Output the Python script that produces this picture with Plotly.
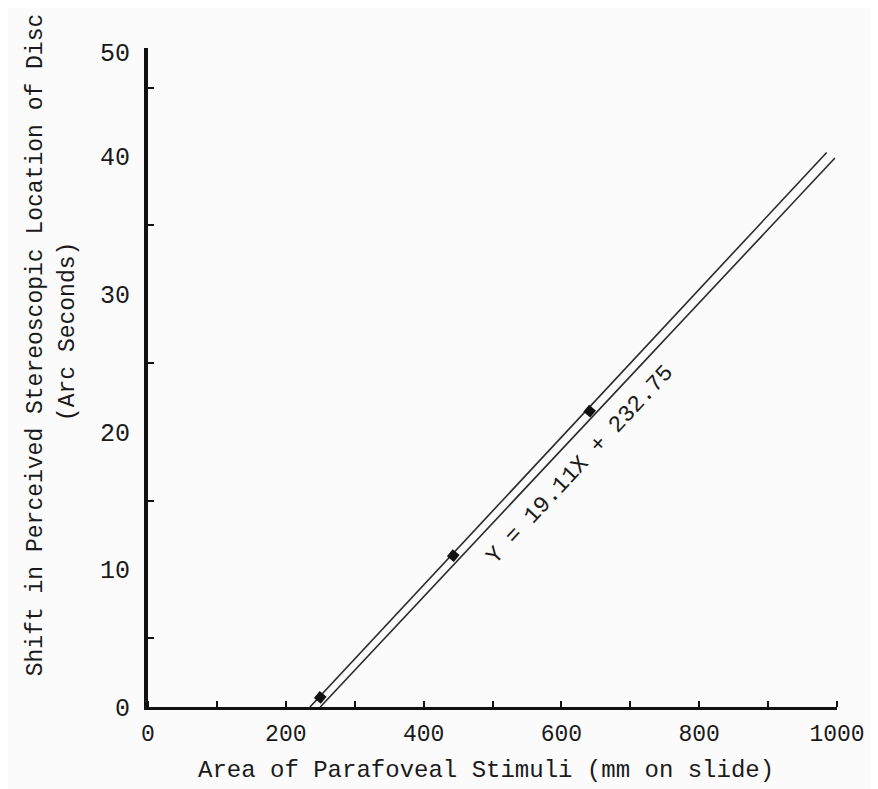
import plotly.graph_objects as go

# Data
points_x = [250, 443, 641]
points_y = [0.7, 11.0, 21.5]

line_upper_x = [235, 985]
line_upper_y = [0, 40.3]
line_lower_x = [250, 997]
line_lower_y = [0, 39.9]

x_tickvals = [0, 200, 400, 600, 800, 1000]
x_ticktext = ["0", "200", "400", "600", "800", "1000"]
y_tickvals = [0, 10, 20, 30, 40, 47.6]
y_ticktext = ["0", "10", "20", "30", "40", "50"]

equation_text = "Y = 19.11X + 232.75"
x_title = "Area of Parafoveal Stimuli (mm on slide)"
y_title_1 = "Shift in Perceived Stereoscopic Location of Disc"
y_title_2 = "(Arc Seconds)"

FONT = "Liberation Mono"
INK = "#1a1a1a"

fig = go.Figure()
fig.add_trace(go.Scatter(x=line_upper_x, y=line_upper_y, mode="lines",
                         line=dict(color="#2a2a2a", width=1.6), showlegend=False))
fig.add_trace(go.Scatter(x=line_lower_x, y=line_lower_y, mode="lines",
                         line=dict(color="#2a2a2a", width=1.6), showlegend=False))
fig.add_trace(go.Scatter(x=points_x, y=points_y, mode="markers",
                         marker=dict(symbol="square", size=9, color="#111111", angle=40),
                         showlegend=False))

fig.add_annotation(x=627, y=17.6, text=equation_text, showarrow=False,
                   textangle=-47, font=dict(family=FONT, size=23, color=INK))

fig.add_annotation(x=0.49, y=-0.096, xref="paper", yref="paper", text=x_title,
                   showarrow=False, yanchor="middle",
                   font=dict(family=FONT, size=24, color=INK))
fig.add_annotation(x=-0.163, y=0.55, xref="paper", yref="paper", text=y_title_1,
                   showarrow=False, textangle=-90, xanchor="center", yanchor="middle",
                   font=dict(family=FONT, size=23, color=INK))
fig.add_annotation(x=-0.115, y=0.57, xref="paper", yref="paper", text=y_title_2,
                   showarrow=False, textangle=-90, xanchor="center", yanchor="middle",
                   font=dict(family=FONT, size=23, color=INK))

fig.update_xaxes(range=[0, 1000], tickvals=x_tickvals, ticktext=x_ticktext,
                 showgrid=False, zeroline=False, showline=True, linecolor="#111111",
                 linewidth=2.5, ticks="", tickfont=dict(family=FONT, size=23, color=INK),
                 minor=dict(tickvals=list(range(0, 1001, 100)), ticks="inside",
                            ticklen=6, tickcolor="#111111", tickwidth=1.5),
                 ticklabelstandoff=4)
fig.update_yaxes(range=[0, 47.9], tickvals=y_tickvals, ticktext=y_ticktext,
                 showgrid=False, zeroline=False, showline=True, linecolor="#111111",
                 linewidth=4, ticks="", tickfont=dict(family=FONT, size=25, color=INK),
                 minor=dict(tickvals=[5, 15, 25, 35, 45], ticks="inside",
                            ticklen=6, tickcolor="#111111", tickwidth=1.5),
                 ticklabelstandoff=9)

fig.update_layout(width=870, height=781,
                  margin=dict(l=140, r=41, t=40, b=82),
                  paper_bgcolor="#fbfbfb", plot_bgcolor="#fbfbfb",
                  showlegend=False)

fig.write_html("out.html")
